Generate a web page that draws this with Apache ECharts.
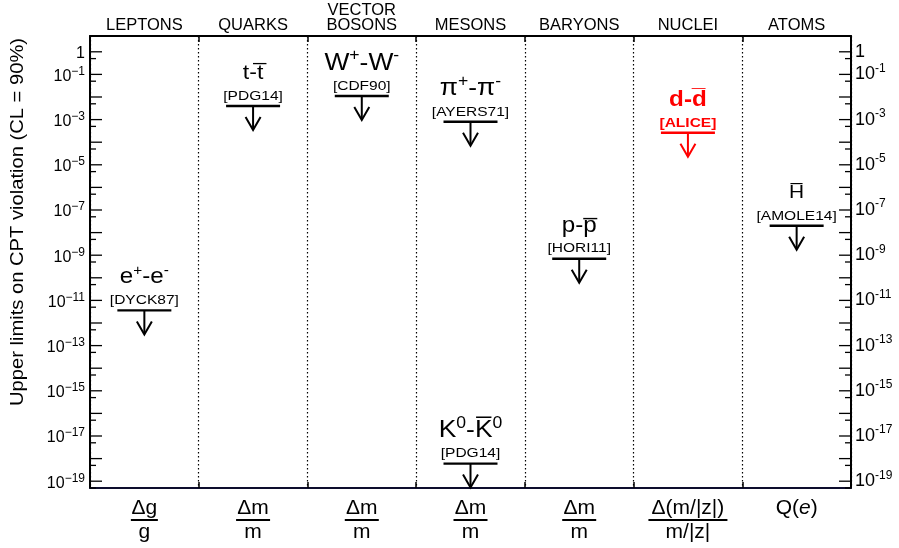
<!DOCTYPE html>
<html>
<head>
<meta charset="utf-8">
<script src="https://cdn.jsdelivr.net/npm/echarts@6/dist/echarts.min.js"></script>
<style>
html,body{margin:0;padding:0;background:#fff;}
#chart{width:899px;height:548px;}
</style>
</head>
<body>
<div id="chart"></div>
<script>
// ---------- data ----------
const categories = ['LEPTONS', 'QUARKS', 'VECTOR\nBOSONS', 'MESONS', 'BARYONS', 'NUCLEI', 'ATOMS'];
const quantityLabels = [
  '{n|Δg}\n{bg| }\n{d|g}',
  '{n|Δm}\n{bm| }\n{d|m}',
  '{n|Δm}\n{bm| }\n{d|m}',
  '{n|Δm}\n{bm| }\n{d|m}',
  '{n|Δm}\n{bm| }\n{d|m}',
  '{n|Δ(m/|z|)}\n{bz| }\n{d|m/|z|}',
  '{n|Q(}{i|e}{n|)}'
];
const limitCategory = [0, 1, 2, 3, 3, 4, 5, 6];
const limitValues = [3.6e-12, 4e-3, 1.1e-2, 8e-4, 6e-19, 7e-10, 2.6e-4, 2e-8];
const particleNames = [
  'e{s|+}-e{s|-}',
  't-t\u0305',
  'W{s|+}-W{s|-}',
  'π{s|+}-π{s|-}',
  'K{s|0}-K\u0305{s|0}',
  'p-p\u0305',
  'd-d\u0305',
  'H\u0305'
];
const references = ['[DYCK87]', '[PDG14]', '[CDF90]', '[AYERS71]', '[PDG14]', '[HORI11]', '[ALICE]', '[AMOLE14]'];
const highlighted = [false, false, false, false, false, false, true, false];
const tickExponents = [0, -1, -2, -3, -4, -5, -6, -7, -8, -9, -10, -11, -12, -13, -14, -15, -16, -17, -18, -19];
const labelledExponents = [0, -1, -3, -5, -7, -9, -11, -13, -15, -17, -19];
const yTitle = 'Upper limits on CPT violation (CL = 90%)';

// ---------- styles ----------
const FONT = '"Liberation Sans", Arial, Helvetica, sans-serif';
const nameFontSizes = [22, 21, 24, 24, 24, 22, 22, 19];
const Y_MIN = 5e-20, Y_MAX = 5;

const majorTicks = tickExponents.map(e => Math.pow(10, e));
const minorTicks = tickExponents.map(e => 5 * Math.pow(10, e - 1));

function supRich(fs, sfs, pad, bold) {
  return {
    n: { fontSize: fs, fontFamily: FONT, fontWeight: bold ? 'bold' : 'normal' },
    s: { fontSize: sfs, fontFamily: FONT, fontWeight: bold ? 'bold' : 'normal', padding: [0, 0, pad, 0] }
  };
}

// convert "a{s|b}c" into rich tokens "{n|a}{s|b}{n|c}"
function toRich(str) {
  const out = [];
  const re = /\{s\|([^}]*)\}/g;
  let last = 0, m;
  while ((m = re.exec(str)) !== null) {
    if (m.index > last) out.push('{n|' + str.slice(last, m.index) + '}');
    out.push('{s|' + m[1] + '}');
    last = re.lastIndex;
  }
  if (last < str.length) out.push('{n|' + str.slice(last) + '}');
  return out.join('');
}

function renderTicks(params, api) {
  const cs = params.coordSys;
  const y = api.coord([0, api.value(1)])[1];
  const x0 = cs.x, x1 = cs.x + cs.width;
  const isMajor = params.seriesName === 'major';
  const len = isMajor ? 12 : 6;
  const children = [
    { type: 'line', shape: { x1: x0, y1: y, x2: x0 + len, y2: y }, style: { stroke: '#000', lineWidth: 1.3 } },
    { type: 'line', shape: { x1: x1 - len, y1: y, x2: x1, y2: y }, style: { stroke: '#000', lineWidth: 1.3 } }
  ];
  if (isMajor) {
    const e = tickExponents[params.dataIndex];
    if (labelledExponents.indexOf(e) >= 0) {
      const lt = e === 0 ? '{n|1}' : '{n|10}{s|\u2212' + Math.abs(e) + '}';
      const rt = e === 0 ? '{n|1}' : '{n|10}{s|-' + Math.abs(e) + '}';
      children.push({
        type: 'text', x: x0 - 5, y: y + 2,
        style: { text: lt, align: 'right', verticalAlign: 'middle', fill: '#000', rich: {
          n: { fontSize: 16, fontFamily: FONT, fill: '#000' },
          s: { fontSize: 12, fontFamily: FONT, fill: '#000', padding: [0, 0, 10, 0] } } }
      });
      children.push({
        type: 'text', x: x1 + 4, y: y,
        style: { text: rt, align: 'left', verticalAlign: 'middle', fill: '#000', rich: {
          n: { fontSize: 18, fontFamily: FONT, fill: '#000' },
          s: { fontSize: 12, fontFamily: FONT, fill: '#000', padding: [0, 0, 12, 0] } } }
      });
    }
  }
  return { type: 'group', children: children };
}

function renderLimit(params, api) {
  const i = params.dataIndex;
  const c = api.coord([api.value(0), api.value(1)]);
  const x = c[0], y = c[1];
  const red = highlighted[i];
  const col = red ? '#ff0000' : '#000000';
  const fs = nameFontSizes[i];
  return {
    type: 'group',
    children: [
      { type: 'line', shape: { x1: x - 27, y1: y, x2: x + 27, y2: y }, style: { stroke: col, lineWidth: 2.4 } },
      { type: 'line', shape: { x1: x, y1: y, x2: x, y2: y + 23 }, style: { stroke: col, lineWidth: 2 } },
      { type: 'polyline', shape: { points: [[x - 7.5, y + 11], [x, y + 24], [x + 7.5, y + 11]] }, style: { stroke: col, lineWidth: 2, fill: null } },
      { type: 'text', x: x, y: y - 10, scaleX: 1.15,
        style: { text: references[i], align: 'center', verticalAlign: 'middle', fill: col,
          font: (red ? 'bold ' : '') + '13.5px ' + FONT } },
      { type: 'text', x: x, y: y - 33, scaleX: 1.1,
        style: { text: toRich(particleNames[i]),
          align: 'center', verticalAlign: 'middle', fill: col,
          rich: supRich(fs, Math.round(fs * 0.65), Math.round(fs * 0.6), red) } }
    ]
  };
}

const chart = echarts.init(document.getElementById('chart'), null, { renderer: 'canvas' });

const axisLineStyle = { color: '#000', width: 2 };

chart.setOption({
  animation: false,
  backgroundColor: '#fff',
  grid: { left: 90, right: 48, top: 36, bottom: 60, containLabel: false, outerBoundsMode: 'none' },
  xAxis: [
    {
      type: 'category', position: 'bottom', data: categories, boundaryGap: true,
      axisLine: { show: true, lineStyle: { color: '#0d0d2d', width: 2 } },
      axisTick: { show: true, inside: true, length: 6, alignWithLabel: false, lineStyle: { color: '#000', width: 1.5 } },
      splitLine: { show: true, lineStyle: { color: '#000', width: 1.2, type: [1.5, 2.5] } },
      axisLabel: {
        margin: 10, color: '#000', interval: 0,
        formatter: (v, idx) => quantityLabels[idx],
        rich: {
          n: { fontSize: 21, fontFamily: FONT, color: '#000', lineHeight: 20 },
          i: { fontSize: 21, fontFamily: FONT, color: '#000', fontStyle: 'italic', lineHeight: 20 },
          d: { fontSize: 21, fontFamily: FONT, color: '#000', lineHeight: 20 },
          bg: { width: 27, height: 2, lineHeight: 4, fontSize: 1, backgroundColor: '#000' },
          bm: { width: 34, height: 2, lineHeight: 4, fontSize: 1, backgroundColor: '#000' },
          bz: { width: 79, height: 2, lineHeight: 4, fontSize: 1, backgroundColor: '#000' }
        }
      }
    },
    {
      type: 'category', position: 'top', data: categories, boundaryGap: true,
      axisLine: { show: true, lineStyle: axisLineStyle },
      axisTick: { show: true, inside: true, length: 6, alignWithLabel: false, lineStyle: { color: '#000', width: 1.5 } },
      splitLine: { show: false },
      axisLabel: { margin: 3, color: '#000', fontSize: 16.5, lineHeight: 15, fontFamily: FONT, interval: 0 }
    }
  ],
  yAxis: [
    {
      type: 'log', logBase: 10, min: Y_MIN, max: Y_MAX, position: 'left',
      axisLine: { show: true, lineStyle: axisLineStyle },
      axisTick: { show: false }, axisLabel: { show: false }, splitLine: { show: false }
    },
    {
      type: 'log', logBase: 10, min: Y_MIN, max: Y_MAX, position: 'right',
      axisLine: { show: true, lineStyle: axisLineStyle },
      axisTick: { show: false }, axisLabel: { show: false }, splitLine: { show: false }
    }
  ],
  graphic: [
    {
      type: 'text', x: 18, y: 222, rotation: Math.PI / 2, scaleX: 1.12,
      style: { text: yTitle, align: 'center', verticalAlign: 'middle', fill: '#000', font: '18px ' + FONT }
    }
  ],
  series: [
    {
      name: 'major', type: 'custom', xAxisIndex: 0, yAxisIndex: 0, clip: false, silent: true,
      renderItem: renderTicks, data: majorTicks.map(v => [0, v]), z: 5
    },
    {
      name: 'minor', type: 'custom', xAxisIndex: 0, yAxisIndex: 0, clip: false, silent: true,
      renderItem: renderTicks, data: minorTicks.map(v => [0, v]), z: 5
    },
    {
      name: 'limits', type: 'custom', xAxisIndex: 0, yAxisIndex: 0, clip: false, silent: true,
      renderItem: renderLimit, data: limitCategory.map((c, i) => [c, limitValues[i]]), z: 6
    }
  ]
});
</script>
</body>
</html>
